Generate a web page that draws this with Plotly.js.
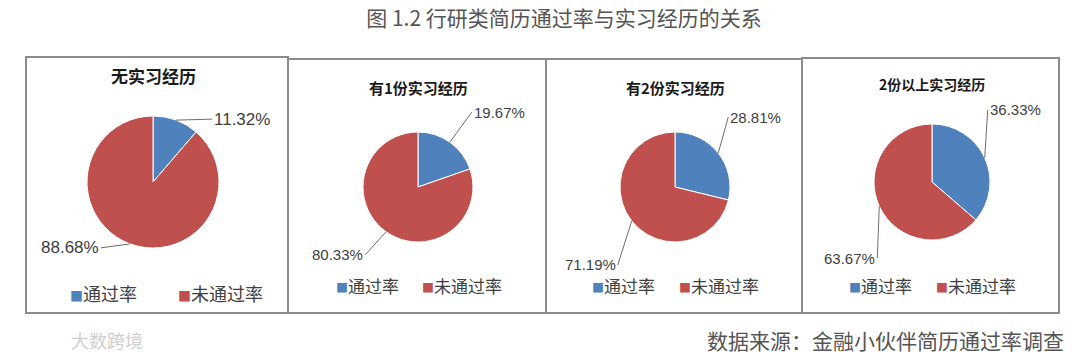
<!DOCTYPE html>
<html><head><meta charset="utf-8">
<script src="https://cdn.plot.ly/plotly-3.0.1.min.js"></script>
<style>html,body{margin:0;padding:0;background:#fff}#chart{width:1080px;height:356px}</style>
</head><body><div id="chart"></div>
<script>
// ---- data ----
const chartTitle = '图 1.2 行研类简历通过率与实习经历的关系';
const sourceNote = '数据来源：金融小伙伴简历通过率调查';
const watermarkText = '大数跨境';
const categories = ['通过率', '未通过率'];
const panelTitles = ['无实习经历', '有1份实习经历', '有2份实习经历', '2份以上实习经历'];
const noInternship = [11.32, 88.68];
const oneInternship = [19.67, 80.33];
const twoInternships = [28.81, 71.19];
const moreInternships = [36.33, 63.67];
const seriesValues = [noInternship, oneInternship, twoInternships, moreInternships];

// ---- style / layout ----
const colors = ['#4F81BD', '#C0504D'];
const W = 1080, H = 356;
const px = x => x / W, py = y => 1 - y / H;
const panels = [
  {box: [26, 57, 288, 313], cx: 153, cy: 182, r: 66, titleY: 75, titleSize: 17, legXs: [68, 176], legY: 293, labFs: 17, legFs: 18,
   offs: [[36, -1, 'left'], [-29, 4, 'right']]},
  {box: [288, 59, 546, 313], cx: 418, cy: 187, r: 55, titleY: 88, titleSize: 15, legXs: [334, 420], legY: 285, labFs: 15, legFs: 17,
   offs: [[22, -30, 'left'], [-21, 23, 'right']]},
  {box: [546, 59, 802, 313], cx: 675, cy: 187, r: 55, titleY: 88, titleSize: 15, legXs: [590, 677], legY: 285, labFs: 15, legFs: 17,
   offs: [[10, -36, 'left'], [-14, 44, 'right']]},
  {box: [802, 58, 1059, 313], cx: 932, cy: 182, r: 58, titleY: 84, titleSize: 14, legXs: [847, 934], legY: 285, labFs: 15, legFs: 17,
   offs: [[3, -48, 'left'], [-2, 52, 'right']]}
];

const cjk = '"Noto Sans CJK SC", "Noto Sans", sans-serif';
const latin = '"Liberation Sans", "Open Sans", sans-serif';
const traces = [], annotations = [], shapes = [];
const layout = {
  width: W, height: H,
  margin: {l: 0, r: 0, t: 0, b: 0},
  paper_bgcolor: '#fff', plot_bgcolor: '#fff',
  showlegend: false,
  title: {text: chartTitle, x: px(564), xanchor: 'center', y: py(19), yanchor: 'middle',
          font: {family: cjk, size: 21, color: '#555555'}}
};

panels.forEach((p, i) => {
  const vals = seriesValues[i];
  traces.push({
    type: 'pie', name: panelTitles[i], labels: categories, values: vals, sort: false, direction: 'clockwise', rotation: 0,
    textinfo: 'none', hoverinfo: 'none',
    marker: {colors: colors, line: {color: '#ffffff', width: 1}},
    domain: {x: [px(p.cx - p.r), px(p.cx + p.r)], y: [py(p.cy + p.r), py(p.cy - p.r)]}
  });
  shapes.push({type: 'rect', xref: 'paper', yref: 'paper', x0: px(p.box[0]), x1: px(p.box[2]),
    y0: py(p.box[3]), y1: py(p.box[1]), line: {color: '#8c8c8c', width: 2}, fillcolor: 'rgba(0,0,0,0)', layer: 'below'});
  annotations.push({text: '<b>' + panelTitles[i] + '</b>', xref: 'paper', yref: 'paper', x: px(p.cx), y: py(p.titleY),
    xanchor: 'center', yanchor: 'middle', showarrow: false, font: {family: cjk, size: p.titleSize, color: '#1a1a1a'}});
  // legend entries (one per category)
  categories.forEach((c, k) => {
    annotations.push({text: '<span style="color:' + colors[k] + ';font-size:' + Math.round(p.legFs * 0.7) + 'px">■</span>' + c,
      xref: 'paper', yref: 'paper', x: px(p.legXs[k]), y: py(p.legY), xanchor: 'left', yanchor: 'middle',
      showarrow: false, font: {family: cjk, size: p.legFs, color: '#404040'}});
  });
  // data labels with leader lines pointing to the middle of each slice
  const total = vals.reduce((a, b) => a + b, 0);
  let cum = 0;
  vals.forEach((v, k) => {
    const mid = (cum + v / 2) / total * 2 * Math.PI;
    cum += v;
    const hx = p.cx + p.r * Math.sin(mid), hy = p.cy - p.r * Math.cos(mid);
    const o = p.offs[k];
    annotations.push({text: v.toFixed(2) + '%', xref: 'paper', yref: 'paper', x: px(hx), y: py(hy),
      ax: o[0], ay: o[1], xanchor: o[2], yanchor: 'middle', showarrow: true, arrowhead: 0, arrowwidth: 1,
      arrowcolor: '#6e6e6e', standoff: 0, font: {family: latin, size: p.labFs, color: '#404040'}});
  });
});

annotations.push({text: sourceNote, xref: 'paper', yref: 'paper', x: px(1066), y: py(340), xanchor: 'right', yanchor: 'middle',
  showarrow: false, font: {family: cjk, size: 21, color: '#555555'}});
annotations.push({text: watermarkText, xref: 'paper', yref: 'paper', x: px(69), y: py(340), xanchor: 'left', yanchor: 'middle',
  showarrow: false, font: {family: cjk, size: 18, color: '#cfcfcf'}});

layout.annotations = annotations;
layout.shapes = shapes;
Plotly.newPlot('chart', traces, layout, {staticPlot: true, displayModeBar: false});
</script></body></html>
